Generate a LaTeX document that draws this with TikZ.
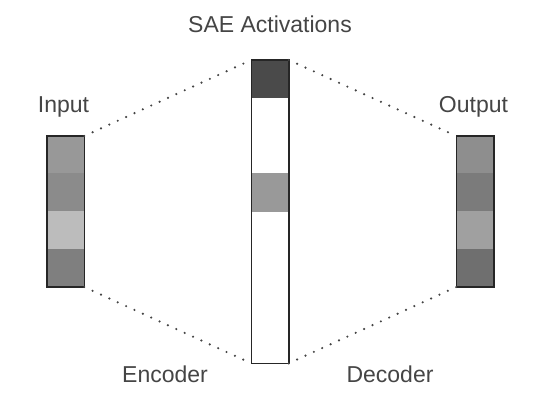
\documentclass[tikz,border=0pt]{standalone}
\usepackage{fontspec}
\setmainfont{Liberation Sans}
\usepackage{tikz}

\definecolor{labelgray}{HTML}{454545}
\definecolor{dotgray}{HTML}{444444}
\definecolor{inA}{HTML}{989898}
\definecolor{inB}{HTML}{8B8B8B}
\definecolor{inC}{HTML}{BCBCBC}
\definecolor{inD}{HTML}{7F7F7F}
\definecolor{outA}{HTML}{8E8E8E}
\definecolor{outB}{HTML}{7B7B7B}
\definecolor{outC}{HTML}{A0A0A0}
\definecolor{outD}{HTML}{6F6F6F}
\definecolor{actHi}{HTML}{4A4A4A}
\definecolor{actMid}{HTML}{999999}

\tikzset{
  cell/.style={minimum width=37.5pt, minimum height=38.6pt, inner sep=0pt, outer sep=0pt},
  frame/.style={draw=black!85, line width=1.5pt, minimum width=37.5pt, inner sep=0pt, outer sep=0pt},
  caption/.style={anchor=base, text=labelgray, font=\fontsize{23}{27}\selectfont},
  link/.style={dotgray, line width=2.4pt, line cap=round, dash pattern=on 0pt off 9.2pt}
}

\begin{document}
\begin{tikzpicture}[x=1pt,y=-1pt]
    \useasboundingbox (0,0) rectangle (533,408);
    % input vector
    \node[cell, fill=inA] (in1) at (65.5,154.9) {};
    \node[cell, fill=inB] (in2) at (65.5,192.6) {};
    \node[cell, fill=inC] (in3) at (65.5,230.4) {};
    \node[cell, fill=inD] (in4) at (65.5,268.1) {};
    \node[frame, minimum height=151pt] (input) at (65.5,211.5) {};
    % sparse activations
    \node[cell, fill=actHi] (act1) at (270,79) {};
    \node[cell, fill=actMid] (act4) at (270,192.6) {};
    \node[frame, minimum height=303.3pt] (sae) at (270,211.65) {};
    % reconstruction
    \node[cell, fill=outA] (out1) at (475,154.9) {};
    \node[cell, fill=outB] (out2) at (475,192.6) {};
    \node[cell, fill=outC] (out3) at (475,230.4) {};
    \node[cell, fill=outD] (out4) at (475,268.1) {};
    \node[frame, minimum height=151pt] (output) at (475,211.5) {};
    % labels
    \node[caption] (lin) at (63.5,112) {Input};
    \node[caption] (lsae) at (270,32) {SAE Activations};
    \node[caption] (lout) at (473.5,112) {Output};
    \node[caption] (lenc) at (165,382) {Encoder};
    \node[caption] (ldec) at (390,382) {Decoder};
    % dotted connectors
    \draw[link] (input.north east) -- (sae.north west);
    \draw[link] (input.south east) -- (sae.south west);
    \draw[link] (sae.north east) -- (output.north west);
    \draw[link] (sae.south east) -- (output.south west);
\end{tikzpicture}
\end{document}
